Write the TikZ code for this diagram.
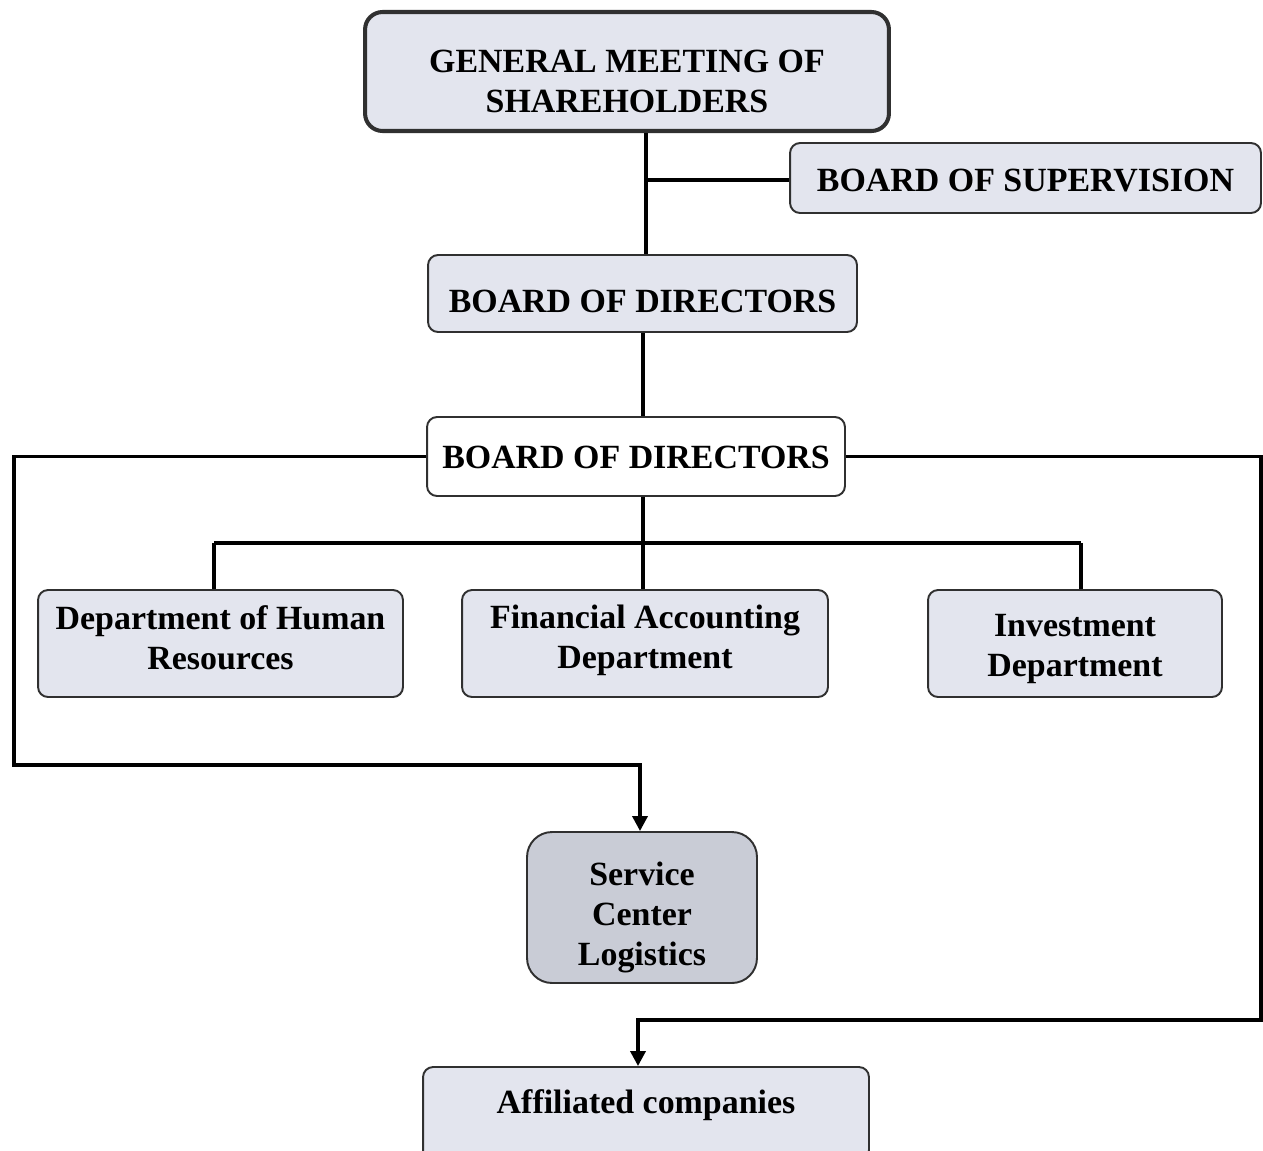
\documentclass[tikz,border=0pt]{standalone}
\usepackage{fontspec}
\setmainfont{Liberation Serif}
\usetikzlibrary{arrows.meta}
\definecolor{boxfill}{HTML}{E3E5EE}
\definecolor{svcfill}{HTML}{C9CCD6}
\definecolor{boxline}{HTML}{303030}
\newcommand{\tx}[2]{\raisebox{#1}[0pt][0pt]{\begin{tabular}{@{}c@{}}#2\end{tabular}}}
\begin{document}
\begin{tikzpicture}[x=0.02cm,y=-0.02cm,
  orgbox/.style={draw=boxline, line width=1.1pt, fill=boxfill, rounded corners=0.2cm,
    inner sep=0pt, font=\fontsize{19.3pt}{22.8pt}\selectfont\bfseries},
  link/.style={line width=2pt, black},
  arr/.style={link, -{Triangle[width=0.3cm,length=0.3cm]}}]
\useasboundingbox (0,0) rectangle (1263,1150);
\clip (0,0) rectangle (1263,1150);
\fill[white] (0,0) rectangle (1263,1150);

\node[orgbox, line width=2.3pt, rounded corners=0.35cm, minimum width=10.48cm, minimum height=2.38cm]
  (gm) at (627,71.5) {\tx{-0.445cm}{GENERAL MEETING OF\\SHAREHOLDERS}};
\node[orgbox, minimum width=9.42cm, minimum height=1.40cm]
  (sup) at (1025.5,178) {\tx{-0.295cm}{BOARD OF SUPERVISION}};
\node[orgbox, minimum width=8.58cm, minimum height=1.54cm]
  (bod1) at (642.5,293.5) {\tx{-0.395cm}{BOARD OF DIRECTORS}};
\node[orgbox, fill=white, minimum width=8.36cm, minimum height=1.58cm]
  (bod2) at (636,456.5) {\tx{-0.255cm}{BOARD OF DIRECTORS}};
\node[orgbox, minimum width=7.30cm, minimum height=2.14cm]
  (hr) at (220.5,643.5) {\tx{-0.145cm}{Department of Human\\Resources}};
\node[orgbox, minimum width=7.32cm, minimum height=2.14cm]
  (fin) at (645,643.5) {\tx{-0.115cm}{Financial Accounting\\Department}};
\node[orgbox, minimum width=5.88cm, minimum height=2.14cm]
  (inv) at (1075,643.5) {\tx{-0.285cm}{Investment\\Department}};
\node[orgbox, fill=svcfill, rounded corners=0.5cm, minimum width=4.60cm, minimum height=3.02cm]
  (svc) at (642,907.5) {\tx{-0.385cm}{Service\\Center\\Logistics}};
\node[orgbox, minimum width=8.92cm, minimum height=1.86cm]
  (aff) at (646,1113.5) {\tx{-0.02cm}{Affiliated companies}};

% top spine
\coordinate (j1) at (646,180);
\draw[link] (gm.south -| j1) -- (bod1.north -| j1);
\draw[link] (j1) -- (j1 -| sup.west);
\draw[link] (bod1.south -| 643,0) -- (bod2.north -| 643,0);

% left loop to service center
\coordinate (lc) at (14,765);
\coordinate (la) at (640,765);
\draw[arr] (bod2.west) -- (bod2.west -| lc) -- (lc) -- (la) -- (la |- svc.north);

% right loop to affiliated companies
\coordinate (rc) at (1261,1020);
\coordinate (ra) at (638,1020);
\draw[arr] (bod2.east) -- (bod2.east -| rc) -- (rc) -- (ra) -- (ra |- aff.north);

% departments
\coordinate (bj) at (643,543);
\coordinate (hx) at (214,543);
\coordinate (ix) at (1081,543);
\draw[link] (bod2.south -| bj) -- (bj);
\draw[link] (hx) -- (ix);
\draw[link] (hx) -- (hx |- hr.north);
\draw[link] (bj) -- (bj |- fin.north);
\draw[link] (ix) -- (ix |- inv.north);
\end{tikzpicture}
\end{document}
